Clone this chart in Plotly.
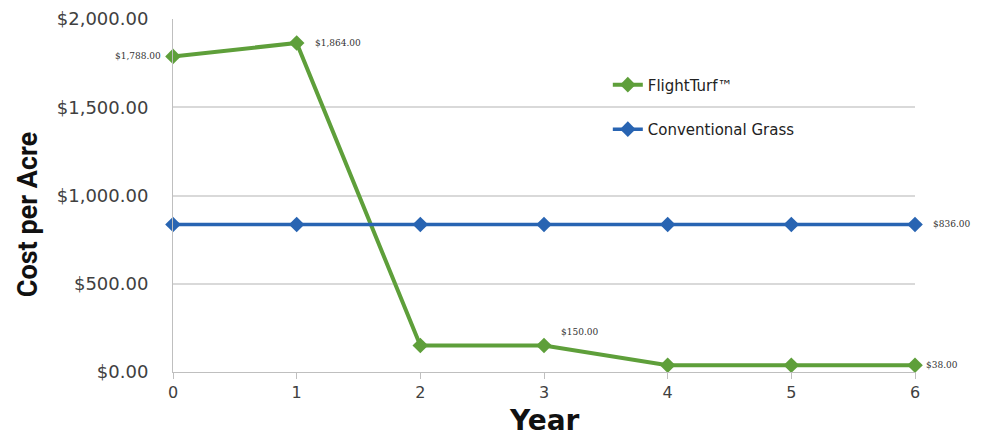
import plotly.graph_objects as go

years = [0, 1, 2, 3, 4, 5, 6]
flightturf = [1788, 1864, 150, 150, 38, 38, 38]
grass = [836, 836, 836, 836, 836, 836, 836]
flightturf_labels = ["$1,788.00", "$1,864.00", "", "$150.00", "", "", "$38.00"]
grass_labels = ["", "", "", "", "", "", "$836.00"]
y_ticks = [0, 500, 1000, 1500, 2000]
y_tick_text = ["$0.00", "$500.00", "$1,000.00", "$1,500.00", "$2,000.00"]

GREEN = "#5e9f3a"
BLUE = "#2864b2"

# label placement (style only): anchor and pixel offsets per labeled point
ft_label_style = {0: ("right", -10, 0), 1: ("left", 16, 0), 3: ("left", 15, 14), 6: ("left", 9, 0)}
gr_label_style = {6: ("left", 16, 0)}

fig = go.Figure()
fig.add_trace(go.Scatter(
    x=years, y=flightturf, name="FlightTurf™", mode="lines+markers",
    line=dict(color=GREEN, width=4), marker=dict(symbol="diamond", size=12, color=GREEN),
    cliponaxis=False, legendgroup="a"))
fig.add_trace(go.Scatter(
    x=years, y=grass, name="Conventional Grass", mode="lines+markers",
    line=dict(color=BLUE, width=3.5), marker=dict(symbol="diamond", size=12, color=BLUE),
    cliponaxis=False, legendgroup="b"))

annotations = []
label_font = dict(family="DejaVu Serif", size=9, color="#333333")
for xs, ys, labels, styles in [(years, flightturf, flightturf_labels, ft_label_style),
                               (years, grass, grass_labels, gr_label_style)]:
    for i, (xv, yv, lab) in enumerate(zip(xs, ys, labels)):
        if lab:
            anchor, dx, dy = styles[i]
            annotations.append(dict(x=xv, y=yv, xref="x", yref="y", text=lab, showarrow=False,
                                    xanchor=anchor, yanchor="middle", xshift=dx, yshift=dy,
                                    font=label_font))

annotations += [
    dict(text="<b>Cost per Acre</b>", xref="paper", yref="paper",
         x=-0.195, y=0.445, xanchor="center", yanchor="middle", textangle=-90,
         showarrow=False, font=dict(family="Liberation Sans Narrow, Roboto", size=27, color="#111111")),
    dict(text="<b>Year</b>", xref="paper", yref="paper",
         x=0.5, y=-0.136, xanchor="center", yanchor="middle",
         showarrow=False, font=dict(family="DejaVu Sans", size=28, color="#111111")),
]

fig.update_layout(
    width=984, height=436,
    margin=dict(l=173, r=69, t=19, b=64),
    paper_bgcolor="white", plot_bgcolor="white",
    showlegend=True,
    legend=dict(x=0.586, y=0.86, xanchor="left", yanchor="top",
                bgcolor="rgba(0,0,0,0)", tracegroupgap=22,
                font=dict(family="DejaVu Sans", size=15, color="#222222")),
    xaxis=dict(range=[0, 6], tickmode="array", tickvals=years,
               ticks="outside", ticklen=6, tickcolor="#bfbfbf",
               showline=True, linecolor="#bfbfbf", linewidth=1,
               showgrid=False, zeroline=False, automargin=False,
               tickfont=dict(family="DejaVu Sans", size=16, color="#404040")),
    yaxis=dict(range=[0, 2000], tickmode="array", tickvals=y_ticks, ticktext=y_tick_text,
               showgrid=True, gridcolor="#d9d9d9", gridwidth=1.5,
               showline=True, linecolor="#bfbfbf", zeroline=False,
               ticks="", ticklabelstandoff=20, automargin=False,
               tickfont=dict(family="DejaVu Sans", size=18, color="#404040")),
    annotations=annotations,
)

fig.write_html("out.html", config={"displayModeBar": False})

with open("out.html", "r", encoding="utf-8") as f:
    html = f.read()
html = html.replace("<head>", "<head><style>html,body{margin:0;padding:0;overflow:hidden;}</style>", 1)
with open("out.html", "w", encoding="utf-8") as f:
    f.write(html)
